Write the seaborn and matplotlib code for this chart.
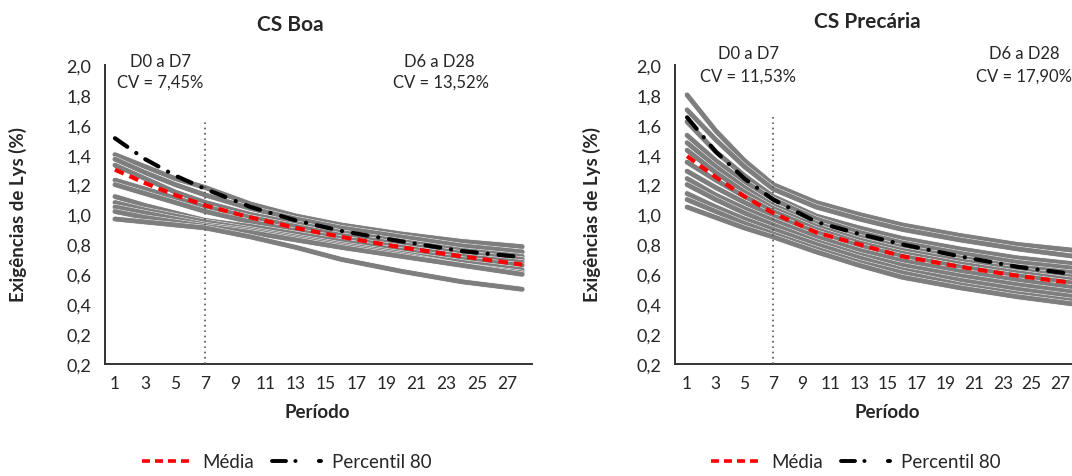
import numpy as np
import pandas as pd
import matplotlib.pyplot as plt
import matplotlib.patheffects as pe
from matplotlib.lines import Line2D
import seaborn as sns

sns.set_style('white')
plt.rcParams['font.family'] = ['Lato', 'DejaVu Sans']

# Dados
periodo = [1, 3, 5, 7, 10, 13, 16, 20, 24, 28]

boa_curvas = [
    [1.40, 1.32, 1.24, 1.18, 1.07, 0.99, 0.93, 0.87, 0.82, 0.785],
    [1.37, 1.28, 1.20, 1.13, 1.04, 0.97, 0.91, 0.85, 0.79, 0.75],
    [1.33, 1.24, 1.15, 1.08, 1.00, 0.94, 0.88, 0.82, 0.76, 0.72],
    [1.23, 1.17, 1.11, 1.05, 0.98, 0.92, 0.86, 0.80, 0.74, 0.70],
    [1.20, 1.14, 1.08, 1.02, 0.95, 0.89, 0.84, 0.78, 0.72, 0.68],
    [1.12, 1.06, 1.01, 0.96, 0.92, 0.87, 0.82, 0.76, 0.70, 0.66],
    [1.08, 1.03, 0.99, 0.95, 0.90, 0.85, 0.80, 0.74, 0.68, 0.63],
    [1.05, 1.01, 0.97, 0.93, 0.89, 0.84, 0.79, 0.73, 0.66, 0.61],
    [1.02, 0.98, 0.95, 0.92, 0.88, 0.83, 0.78, 0.72, 0.66, 0.60],
    [0.97, 0.95, 0.93, 0.91, 0.85, 0.78, 0.70, 0.62, 0.55, 0.50],
]
boa_media = [1.30, 1.21, 1.13, 1.06, 0.98, 0.91, 0.85, 0.78, 0.72, 0.665]
boa_p80 = [1.51, 1.37, 1.26, 1.17, 1.05, 0.96, 0.89, 0.82, 0.755, 0.715]

prec_curvas = [
    [1.80, 1.56, 1.36, 1.20, 1.08, 1.00, 0.93, 0.86, 0.80, 0.76],
    [1.70, 1.50, 1.32, 1.17, 1.05, 0.97, 0.90, 0.83, 0.77, 0.72],
    [1.62, 1.42, 1.26, 1.12, 0.99, 0.91, 0.84, 0.77, 0.71, 0.67],
    [1.53, 1.36, 1.22, 1.10, 0.97, 0.88, 0.81, 0.74, 0.68, 0.64],
    [1.48, 1.32, 1.18, 1.06, 0.94, 0.85, 0.78, 0.71, 0.65, 0.61],
    [1.43, 1.28, 1.15, 1.04, 0.92, 0.83, 0.76, 0.69, 0.63, 0.58],
    [1.35, 1.23, 1.12, 1.02, 0.90, 0.81, 0.74, 0.67, 0.61, 0.56],
    [1.29, 1.18, 1.08, 0.99, 0.88, 0.79, 0.72, 0.65, 0.59, 0.54],
    [1.24, 1.13, 1.04, 0.96, 0.85, 0.76, 0.69, 0.62, 0.56, 0.51],
    [1.20, 1.10, 1.01, 0.93, 0.82, 0.73, 0.66, 0.59, 0.53, 0.48],
    [1.14, 1.05, 0.97, 0.90, 0.80, 0.71, 0.63, 0.56, 0.50, 0.45],
    [1.10, 1.02, 0.94, 0.87, 0.77, 0.68, 0.61, 0.53, 0.47, 0.42],
    [1.05, 0.98, 0.91, 0.85, 0.75, 0.66, 0.58, 0.51, 0.45, 0.40],
]
prec_media = [1.39, 1.25, 1.12, 1.01, 0.88, 0.80, 0.72, 0.65, 0.59, 0.54]
prec_p80 = [1.65, 1.42, 1.24, 1.10, 0.95, 0.87, 0.80, 0.72, 0.65, 0.60]

yticks = [0.0, 0.2, 0.4, 0.6, 0.8, 1.0, 1.2, 1.4, 1.6, 1.8, 2.0]
ytick_labels = ['0,2', '0,2', '0,4', '0,6', '0,8', '1,0', '1,2', '1,4', '1,6', '1,8', '2,0']
xticks = list(range(1, 28, 2))

paineis = [
    dict(titulo='CS Boa', curvas=boa_curvas, media=boa_media, p80=boa_p80,
         cv1='CV = 7,45%', cv2='CV = 13,52%'),
    dict(titulo='CS Precária', curvas=prec_curvas, media=prec_media, p80=prec_p80,
         cv1='CV = 11,53%', cv2='CV = 17,90%'),
]

W, H = 1072, 477
fig = plt.figure(figsize=(W / 100, H / 100), dpi=100)

# posições em pixels (esquerda, direita) e limites x de cada painel
pos = [(105, 532, (0.34, 28.65)), (675, 1084, (0.16, 28.65))]
ann = [((4.0, 2.03), (4.0, 1.89), (22.5, 2.03), (22.6, 1.89)),
       ((5.25, 2.08), (5.25, 1.93), (24.5, 2.08), (24.5, 1.93))]
titles_xy = [(290, 25), (867, 22)]
ylab_x = [18, 592]
xlab_x = [317, 887]
leg_x = [287, 856]

media_ls = (0, (2.3, 1.5))
p80_ls = (0, (3.6, 2.6, 0.05, 2.6))

for i, p in enumerate(paineis):
    l, r, xl = pos[i]
    ax = fig.add_axes([l / W, (H - 365) / H, (r - l) / W, (365 - 66) / H])

    n = len(p['curvas'])
    df = pd.DataFrame({
        'Período': periodo * n,
        'valor': np.concatenate(p['curvas']),
        'curva': np.repeat(np.arange(n), len(periodo)),
    })
    sns.lineplot(data=df, x='Período', y='valor', units='curva', estimator=None,
                 color='#7e7e7e', lw=3.2, ax=ax, legend=False)
    for ln in ax.lines:
        ln.set_path_effects([pe.withStroke(linewidth=4.2, foreground='#ececec'), pe.Normal()])

    ax.axvline(7, ymin=0, ymax=(1.62 if i == 0 else 1.66) / 2.0, color='#555555',
               lw=1.2, ls=(0, (1, 2.2)), zorder=5)

    sns.lineplot(x=periodo, y=p['media'], color='#ff0000', lw=3.0, ls=media_ls,
                 ax=ax, zorder=6)
    sns.lineplot(x=periodo, y=p['p80'], color='black', lw=3.0, ls=p80_ls,
                 dash_capstyle='round', ax=ax, zorder=6)

    ax.set_xlim(*xl)
    ax.set_ylim(0, 2.0)
    ax.set_xticks(xticks)
    ax.set_xticklabels([str(x) for x in xticks], fontsize=12.5)
    ax.set_yticks(yticks)
    ax.set_yticklabels(ytick_labels, fontsize=13)
    ax.tick_params(axis='x', length=0, pad=8)
    ax.tick_params(axis='y', length=6, width=1.2, color='#333333', pad=4)
    ax.set_xlabel('')
    ax.set_ylabel('')
    for s in ['top', 'right']:
        ax.spines[s].set_visible(False)
    for s in ['left', 'bottom']:
        ax.spines[s].set_color('#333333')
        ax.spines[s].set_linewidth(1.4)

    a = ann[i]
    ax.text(*a[0], 'D0 a D7', ha='center', va='center', fontsize=12, clip_on=False)
    ax.text(*a[1], p['cv1'], ha='center', va='center', fontsize=12, clip_on=False)
    ax.text(*a[2], 'D6 a D28', ha='center', va='center', fontsize=12, clip_on=False)
    ax.text(*a[3], p['cv2'], ha='center', va='center', fontsize=12, clip_on=False)

    tx, ty = titles_xy[i]
    fig.text(tx / W, 1 - ty / H, p['titulo'], ha='center', va='center',
             fontsize=15, fontweight='bold')
    fig.text(ylab_x[i] / W, 1 - 215 / H, 'Exigências de Lys (%)', rotation=90,
             ha='center', va='center', fontsize=13.5, fontweight='bold')
    fig.text(xlab_x[i] / W, 1 - 413 / H, 'Período', ha='center', va='center',
             fontsize=13.5, fontweight='bold')

    handles = [
        Line2D([], [], color='#ff0000', lw=2.6, ls=(0, (2.2, 1.4))),
        Line2D([], [], color='black', lw=2.8, ls=(0, (3.6, 2.4, 0.05, 6)),
               dash_capstyle='round'),
    ]
    fig.legend(handles, ['Média', 'Percentil 80'], loc='center',
               bbox_to_anchor=(leg_x[i] / W, 1 - 463 / H), ncol=2, frameon=False,
               handlelength=2.6, columnspacing=1.0, handletextpad=0.6,
               prop={'family': ['Liberation Sans Narrow', 'Lato', 'DejaVu Sans'], 'size': 13.5})

fig.savefig('out.png', dpi=100)
